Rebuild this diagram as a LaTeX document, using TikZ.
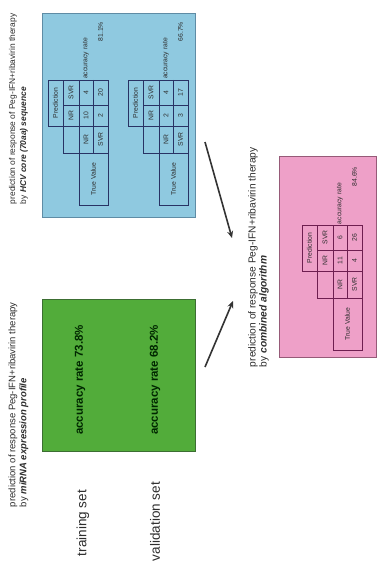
\documentclass[tikz,border=0pt]{standalone}
\usepackage{fontspec}
\setmainfont{Liberation Sans}
\usetikzlibrary{arrows.meta}
\definecolor{bluefill}{RGB}{143,201,224}
\definecolor{blueedge}{RGB}{95,140,165}
\definecolor{greenfill}{RGB}{82,172,58}
\definecolor{greenedge}{RGB}{60,110,50}
\definecolor{pinkfill}{RGB}{238,160,200}
\definecolor{pinkedge}{RGB}{150,90,120}
\definecolor{navyline}{RGB}{40,50,100}
\definecolor{plumline}{RGB}{110,30,80}
\definecolor{txt}{RGB}{45,45,45}
\newcommand{\cmtab}[9]{%
\begin{scope}[shift={(#1,#2)}]
\draw[tabline=#8] (0,0) rectangle (15,46);
\draw[tabline=#8] (15,0) rectangle (31,73);
\draw[tabline=#8] (31,0) rectangle (60,125);
\draw[tabline=#8] (15,25) -- (60,25);
\draw[tabline=#8] (15,46) -- (60,46);
\draw[tabline=#8] (31,73) -- (60,73);
\draw[tabline=#8] (45,0) -- (45,73);
\node[tt] (#9pred) at (7.5,23) {Prediction};
\node[tt] (#9hnr) at (23,35.5) {NR};
\node[tt] (#9hsvr) at (23,12.5) {SVR};
\node[tt] (#9rnr) at (38,59.5) {NR};
\node[tt] (#9rsvr) at (52.5,59.5) {SVR};
\node[tt] (#9tv) at (45.5,99) {True Value};
\node[tt] (#9a) at (38,35.5) {#3};
\node[tt] (#9b) at (38,12.5) {#4};
\node[tt] (#9c) at (52.5,35.5) {#5};
\node[tt] (#9d) at (52.5,12.5) {#6};
\node[tt,anchor=west] (#9acc) at (38,-1) {accuracy rate};
\node[tt,anchor=east] (#9val) at (52.5,-58) {#7};
\end{scope}}
\begin{document}
\begin{tikzpicture}[x=1pt,y=-1pt,
  every node/.style={inner sep=0pt,outer sep=0pt,text=txt},
  box/.style={draw=#1edge,fill=#1fill,line width=0.6pt},
  tabline/.style={draw=#1,line width=0.6pt},
  tt/.style={rotate=90,font=\fontsize{6.8}{7}\selectfont},
  capb/.style={rotate=90,anchor=west,font=\fontsize{8.4}{10}\selectfont},
  capg/.style={rotate=90,anchor=west,font=\fontsize{9.5}{10}\selectfont},
  capp/.style={rotate=90,anchor=west,font=\fontsize{10.2}{11}\selectfont},
  setlab/.style={rotate=90,anchor=west,font=\fontsize{13.5}{14}\selectfont},
  acc/.style={rotate=90,font=\bfseries\fontsize{11.5}{12}\selectfont,text=black!85!green},
  arr/.style={draw=black!80,line width=1.6pt,-{Stealth[length=7pt,width=6pt]}}]
\useasboundingbox (0,0) rectangle (382,564);
\fill[white] (0,0) rectangle (382,564);
% boxes
\node[box=blue,minimum width=153pt,minimum height=204pt] (bluebox) at (118.5,115) {};
\node[box=green,minimum width=153pt,minimum height=152pt] (greenbox) at (118.5,375) {};
\node[box=pink,minimum width=97pt,minimum height=201pt] (pinkbox) at (327.5,256.5) {};
% captions
\node[capb] (bc1) at (13,204) {prediction of response of Peg-IFN+ribavirin therapy};
\node[capb] (bc2) at (24,204) {by \textbf{\itshape HCV core (70aa) sequence}};
\node[capg] (gc1) at (13,507) {prediction of response Peg-IFN+ribavirin therapy};
\node[capg] (gc2) at (24,507) {by \textbf{\itshape miRNA expression profile}};
\node[capp] (pc1) at (253,367) {prediction of response Peg-IFN+ribavirin therapy};
\node[capp] (pc2) at (264,367) {by \textbf{\itshape combined algorithm}};
\node[setlab] (train) at (83,556) {training set};
\node[setlab] (valid) at (155,561) {validation set};
% green box texts
\node[acc] (acc1) at (80,380) {accuracy rate 73.8\%};
\node[acc] (acc2) at (155,380) {accuracy rate 68.2\%};
% tables
\cmtab{48}{80}{10}{4}{2}{20}{81.1\%}{navyline}{ta}
\cmtab{128}{80}{2}{4}{3}{17}{66.7\%}{navyline}{tb}
\cmtab{302}{225}{11}{6}{4}{26}{84.6\%}{plumline}{tc}
% arrows
\coordinate (g1) at (205,367);
\coordinate (g2) at (233,301);
\coordinate (b1) at (205,142);
\coordinate (b2) at (232,238);
\draw[arr] (g1) -- (g2);
\draw[arr] (b1) -- (b2);
\end{tikzpicture}
\end{document}
